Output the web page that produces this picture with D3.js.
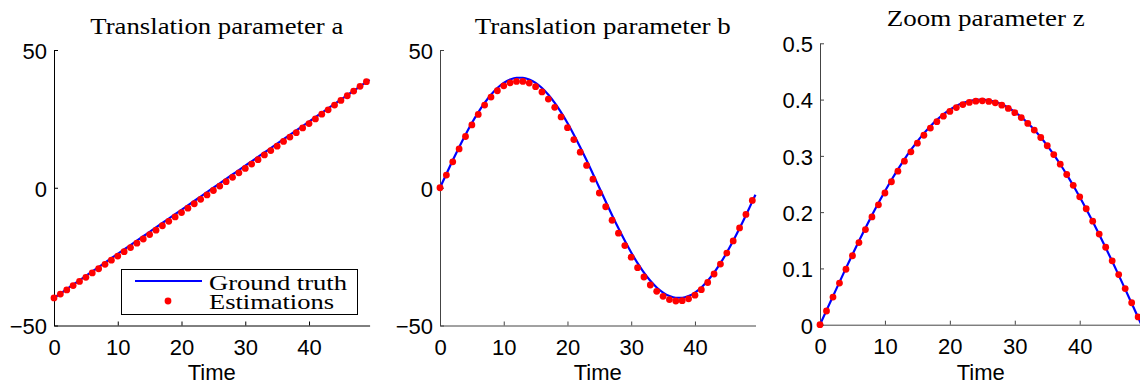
<!DOCTYPE html>
<html>
<head>
<meta charset="utf-8">
<script src="https://cdn.jsdelivr.net/npm/d3@7"></script>
<style>
  body { margin: 0; background: #fff; }
  svg { display: block; }
</style>
</head>
<body>
<svg id="chart" width="1140" height="384"></svg>
<script>
// time steps of the estimations, the ground truth runs on to the axis end
let time = [0, 1, 2, 3, 4, 5, 6, 7, 8, 9, 10, 11, 12, 13, 14, 15, 16, 17, 18, 19, 20, 21, 22, 23, 24,
        25, 26, 27, 28, 29, 30, 31, 32, 33, 34, 35, 36, 37, 38, 39, 40, 41, 42, 43, 44, 45, 46, 47, 48, 49];
let truthTime = [0, 1, 2, 3, 4, 5, 6, 7, 8, 9, 10, 11, 12, 13, 14, 15, 16, 17, 18, 19, 20, 21, 22, 23, 24,
        25, 26, 27, 28, 29, 30, 31, 32, 33, 34, 35, 36, 37, 38, 39, 40, 41, 42, 43, 44, 45, 46, 47, 48, 49, 49.5];

let truthA = [-40, -38.4, -36.8, -35.2, -33.6, -32, -30.4, -28.8, -27.2, -25.6, -24, -22.4, -20.8, -19.2, -17.6,
        -16, -14.4, -12.8, -11.2, -9.6, -8, -6.4, -4.8, -3.2, -1.6, 0, 1.6, 3.2, 4.8, 6.4, 8, 9.6, 11.2, 12.8,
        14.4, 16, 17.6, 19.2, 20.8, 22.4, 24, 25.6, 27.2, 28.8, 30.4, 32, 33.6, 35.2, 36.8, 38.4, 39.2];
let estA = [-40, -38.6, -37.1, -35.5, -34, -32.5, -30.9, -29.4, -27.8, -26.3, -24.8, -23.2, -21.7, -20.1, -18.6,
        -17, -15.4, -13.8, -12.2, -10.6, -9, -7.4, -5.8, -4.2, -2.6, -1, 0.6, 2.2, 3.8, 5.4, 7, 8.6, 10.2, 11.9,
        13.5, 15.1, 16.8, 18.4, 20, 21.7, 23.3, 25, 26.7, 28.3, 30, 31.7, 33.4, 35.1, 36.8, 38.5];

let truthB = [0, 5.01, 9.95, 14.72, 19.27, 23.51, 27.38, 30.82, 33.77, 36.19, 38.04, 39.29, 39.92, 39.92, 39.29,
        38.04, 36.19, 33.77, 30.82, 27.38, 23.51, 19.27, 14.72, 9.95, 5.01, 0, -5.01, -9.95, -14.72, -19.27,
        -23.51, -27.38, -30.82, -33.77, -36.19, -38.04, -39.29, -39.92, -39.92, -39.29, -38.04, -36.19, -33.77,
        -30.82, -27.38, -23.51, -19.27, -14.72, -9.95, -5.01, -2.51];
let estB = [0, 4.6, 9.4, 14.1, 18.6, 22.8, 26.6, 30, 32.9, 35.2, 37, 38.1, 38.6, 38.6, 38, 36.7, 34.8, 32.2, 29.2,
        25.7, 21.8, 17.5, 12.9, 8.1, 3.1, -1.9, -6.9, -11.8, -16.5, -21, -25.2, -29, -32.4, -35.3, -37.6, -39.4,
        -40.6, -41.1, -41, -40.3, -39, -37, -34.4, -31.3, -27.7, -23.7, -19.3, -14.6, -9.7, -4.6];

let truthZ = [0, 0.0254, 0.0506, 0.0757, 0.1005, 0.1248, 0.1487, 0.1719, 0.1945, 0.2162, 0.2372, 0.2571, 0.276,
        0.2938, 0.3105, 0.3258, 0.3399, 0.3526, 0.3639, 0.3737, 0.382, 0.3887, 0.3939, 0.3975, 0.3996, 0.4,
        0.3987, 0.3959, 0.3915, 0.3855, 0.378, 0.3689, 0.3584, 0.3464, 0.333, 0.3182, 0.3023, 0.2851, 0.2667,
        0.2473, 0.2268, 0.2055, 0.1833, 0.1604, 0.1368, 0.1127, 0.0881, 0.0632, 0.038, 0.0127, 0];
let estZ = [0, 0.0243, 0.049, 0.074, 0.0985, 0.1225, 0.146, 0.169, 0.1915, 0.213, 0.234, 0.254, 0.2728, 0.2905,
        0.3072, 0.3225, 0.3366, 0.3494, 0.3607, 0.3706, 0.379, 0.3858, 0.3911, 0.3949, 0.3972, 0.3978, 0.3968,
        0.3942, 0.39, 0.3842, 0.3768, 0.368, 0.3577, 0.3458, 0.3326, 0.318, 0.3022, 0.2852, 0.2669, 0.2477,
        0.2273, 0.206, 0.1839, 0.1611, 0.1376, 0.1135, 0.089, 0.0642, 0.039, 0.0138];

let xTicks = [0, 10, 20, 30, 40];
let abTicks = [-50, 0, 50];
let zTicks = [0, 0.1, 0.2, 0.3, 0.4, 0.5];
let titles = ["Translation parameter a", "Translation parameter b", "Zoom parameter z"];
let legendLabels = ["Ground truth", "Estimations"];

let sans = "'Liberation Sans', Arial, sans-serif";
let serif = "'Liberation Serif', 'Times New Roman', serif";

let panels = [
        {title: titles[0], titleW: 253, truth: truthA, est: estA, yDomain: [-50, 50], yTicks: abTicks,
                x0: 54, x1: 369.6, yTop: 50, yBot: 325.5, axisColor: "#000", legend: true},
        {title: titles[1], titleW: 256, truth: truthB, est: estB, yDomain: [-50, 50], yTicks: abTicks,
                x0: 440, x1: 755.5, yTop: 50, yBot: 325.5, axisColor: "#444"},
        {title: titles[2], titleW: 198, truth: truthZ, est: estZ, yDomain: [0, 0.5], yTicks: zTicks,
                x0: 820, x1: 1141.4, yTop: 43.3, yBot: 324.7, axisColor: "#444", titleY: 26}
];

let svg = d3.select("#chart");

panels.forEach(p => {
        let x = d3.scaleLinear().domain([0, 49.5]).range([p.x0, p.x1]);
        let y = d3.scaleLinear().domain(p.yDomain).range([p.yBot, p.yTop]);
        let g = svg.append("g");

        let xAxis = g.append("g")
                .attr("transform", `translate(0,${p.yBot})`)
                .call(d3.axisBottom(x).tickValues(xTicks).tickFormat(d3.format(""))
                        .tickSizeInner(-4).tickSizeOuter(0).tickPadding(14));
        let yAxis = g.append("g")
                .attr("transform", `translate(${p.x0},0)`)
                .call(d3.axisLeft(y).tickValues(p.yTicks).tickFormat(d3.format(""))
                        .tickSizeInner(-4).tickSizeOuter(0).tickPadding(7));

        [xAxis, yAxis].forEach(a => {
                a.select(".domain").attr("stroke", p.axisColor).attr("stroke-width", 1);
                a.selectAll(".tick line").attr("stroke", p.axisColor);
                a.selectAll(".tick text")
                        .attr("fill", "#000")
                        .style("font-family", sans)
                        .style("font-size", "22px");
        });
        yAxis.selectAll(".tick text").attr("dy", "0.38em");

        g.append("text")
                .attr("x", (p.x0 + p.x1) / 2)
                .attr("y", 380)
                .attr("text-anchor", "middle")
                .style("font-family", sans)
                .style("font-size", "22px")
                .text("Time");

        // CM-like wide serif: stretch the glyphs to the measured width
        g.append("text")
                .attr("x", (p.x0 + p.x1) / 2 + 5)
                .attr("y", p.titleY || 34)
                .attr("text-anchor", "middle")
                .attr("textLength", p.titleW)
                .attr("lengthAdjust", "spacingAndGlyphs")
                .style("font-family", serif)
                .style("font-size", "23px")
                .text(p.title);

        let line = d3.line()
                .x((d, i) => x(truthTime[i]))
                .y(d => y(d))
                .curve(d3.curveMonotoneX);

        g.append("path")
                .datum(p.truth)
                .attr("fill", "none")
                .attr("stroke", "#0000ff")
                .attr("stroke-width", 2.2)
                .attr("d", line);

        g.append("g")
                .selectAll("circle")
                .data(p.est)
                .join("circle")
                .attr("cx", (d, i) => x(time[i]))
                .attr("cy", d => y(d))
                .attr("r", 3.4)
                .attr("fill", "#ff0000");

        if (p.legend) {
                let lg = svg.append("g");
                lg.append("rect")
                        .attr("x", 121.5).attr("y", 269.5)
                        .attr("width", 236).attr("height", 45)
                        .attr("fill", "#fff").attr("stroke", "#000");
                lg.append("line")
                        .attr("x1", 135).attr("x2", 202)
                        .attr("y1", 281).attr("y2", 281)
                        .attr("stroke", "#0000ff").attr("stroke-width", 2.2);
                lg.append("circle")
                        .attr("cx", 168).attr("cy", 301).attr("r", 3.4)
                        .attr("fill", "#ff0000");
                lg.selectAll("text")
                        .data(legendLabels)
                        .join("text")
                        .attr("x", 209)
                        .attr("y", (d, i) => i ? 309 : 290)
                        .attr("textLength", (d, i) => i ? 125 : 138)
                        .attr("lengthAdjust", "spacingAndGlyphs")
                        .style("font-family", serif)
                        .style("font-size", "21px")
                        .text(d => d);
        }
});
</script>
</body>
</html>
